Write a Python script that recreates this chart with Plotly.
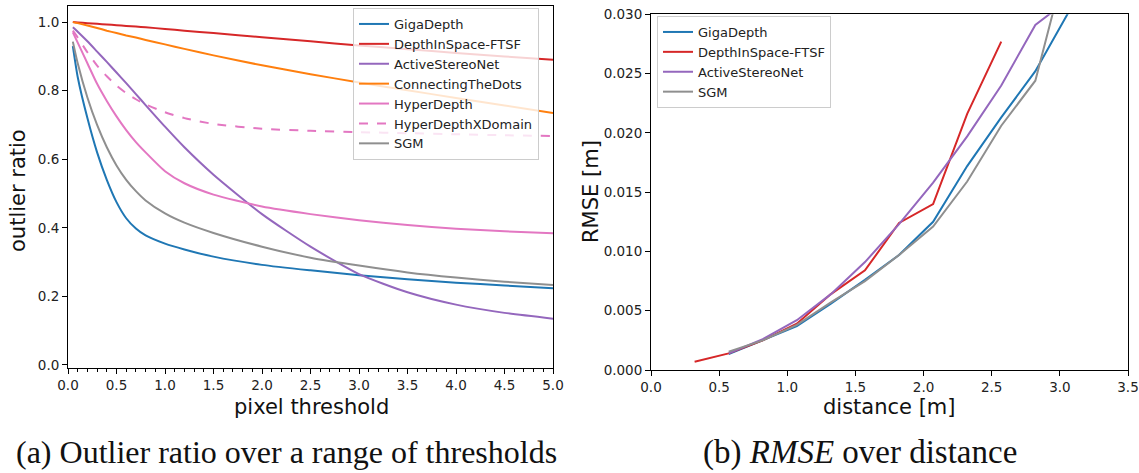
import plotly.graph_objects as go

W, H = 1139, 473

# ---------------- data: (a) outlier ratio ----------------
thresholds = [0.05, 0.1, 0.2, 0.3, 0.4, 0.5, 0.6, 0.7, 0.8, 1.0, 1.2, 1.5, 2.0, 2.5, 3.0, 3.5, 4.0, 4.5, 5.0]
giga_outlier = [0.93, 0.84, 0.72, 0.62, 0.54, 0.475, 0.428, 0.398, 0.378, 0.354, 0.337, 0.316, 0.292, 0.276, 0.262, 0.250, 0.240, 0.232, 0.224]
dis_outlier = [1.0, 0.999, 0.997, 0.995, 0.993, 0.991, 0.989, 0.987, 0.985, 0.98, 0.975, 0.968, 0.956, 0.944, 0.932, 0.921, 0.91, 0.90, 0.89]
asn_outlier = [0.985, 0.972, 0.944, 0.914, 0.884, 0.853, 0.822, 0.79, 0.758, 0.695, 0.635, 0.555, 0.44, 0.345, 0.265, 0.212, 0.176, 0.152, 0.135]
ctd_outlier = [1.0, 0.997, 0.99, 0.983, 0.975, 0.968, 0.961, 0.955, 0.948, 0.935, 0.922, 0.903, 0.874, 0.848, 0.824, 0.801, 0.779, 0.757, 0.735]
hyper_outlier = [0.97, 0.94, 0.88, 0.82, 0.77, 0.725, 0.685, 0.65, 0.62, 0.565, 0.53, 0.497, 0.462, 0.44, 0.422, 0.408, 0.397, 0.39, 0.384]
hyperx_outlier = [0.975, 0.955, 0.912, 0.873, 0.842, 0.815, 0.793, 0.775, 0.76, 0.737, 0.72, 0.703, 0.689, 0.683, 0.679, 0.676, 0.673, 0.670, 0.668]
sgm_outlier = [0.943, 0.88, 0.78, 0.70, 0.635, 0.582, 0.54, 0.507, 0.48, 0.442, 0.415, 0.385, 0.345, 0.313, 0.29, 0.27, 0.255, 0.243, 0.233]

# ---------------- data: (b) RMSE over distance ----------------
dist_giga = [0.57, 0.82, 1.07, 1.32, 1.57, 1.82, 2.07, 2.32, 2.57, 2.82, 3.07]
rmse_giga = [0.00135, 0.0025, 0.0037, 0.0056, 0.0076, 0.0097, 0.0125, 0.0172, 0.0213, 0.0252, 0.0303]
dist_dis = [0.32, 0.57, 0.82, 1.07, 1.32, 1.57, 1.82, 2.07, 2.32, 2.57]
rmse_dis = [0.0007, 0.0014, 0.0025, 0.0039, 0.0064, 0.0084, 0.0124, 0.0140, 0.0216, 0.0277]
dist_asn = [0.57, 0.82, 1.07, 1.32, 1.57, 1.82, 2.07, 2.32, 2.57, 2.82, 3.07]
rmse_asn = [0.0014, 0.0026, 0.0042, 0.0064, 0.0091, 0.0123, 0.0158, 0.0197, 0.0240, 0.0291, 0.0313]
dist_sgm = [0.57, 0.82, 1.07, 1.32, 1.57, 1.82, 2.07, 2.32, 2.57, 2.82, 3.07]
rmse_sgm = [0.00155, 0.0025, 0.0038, 0.0057, 0.0075, 0.0097, 0.0121, 0.0159, 0.0206, 0.0244, 0.0355]

names_a = ["GigaDepth", "DepthInSpace-FTSF", "ActiveStereoNet", "ConnectingTheDots",
           "HyperDepth", "HyperDepthXDomain", "SGM"]
names_b = ["GigaDepth", "DepthInSpace-FTSF", "ActiveStereoNet", "SGM"]
captions = ["(a) Outlier ratio over a range of thresholds", "(b) <i>RMSE</i> over distance"]

C_BLUE, C_RED, C_PURPLE, C_ORANGE, C_PINK, C_GRAY = (
    "#1f77b4", "#d62728", "#9467bd", "#ff7f0e", "#e377c2", "#8f8f8f")

fig = go.Figure()

series_a = [
    (giga_outlier, C_BLUE, "solid"),
    (dis_outlier, C_RED, "solid"),
    (asn_outlier, C_PURPLE, "solid"),
    (ctd_outlier, C_ORANGE, "solid"),
    (hyper_outlier, C_PINK, "solid"),
    (hyperx_outlier, C_PINK, "dash"),
    (sgm_outlier, C_GRAY, "solid"),
]
for name, (vals, col, dash) in zip(names_a, series_a):
    fig.add_trace(go.Scatter(
        x=thresholds, y=vals, name=name, mode="lines",
        line=dict(color=col, width=2, dash=dash, shape="spline", smoothing=0.6),
        xaxis="x", yaxis="y", legend="legend"))

series_b = [
    (dist_giga, rmse_giga, C_BLUE),
    (dist_dis, rmse_dis, C_RED),
    (dist_asn, rmse_asn, C_PURPLE),
    (dist_sgm, rmse_sgm, C_GRAY),
]
for name, (xs, ys, col) in zip(names_b, series_b):
    fig.add_trace(go.Scatter(
        x=xs, y=ys, name=name, mode="lines",
        line=dict(color=col, width=2),
        xaxis="x2", yaxis="y2", legend="legend2"))

tickfont = dict(family="DejaVu Sans", size=13.5, color="#222222")
axis_common = dict(showline=True, linecolor="#000000", linewidth=1, mirror=True,
                   ticks="outside", ticklen=5, tickwidth=1, tickcolor="#000000",
                   showgrid=False, zeroline=False, tickfont=tickfont, automargin=False)

def px_x(p):
    return p / W

def px_y(p):
    return 1 - p / H

legend_common = dict(xanchor="left", yanchor="top",
                     bgcolor="rgba(255,255,255,0.8)", bordercolor="#cccccc", borderwidth=1,
                     font=dict(family="DejaVu Sans", size=13, color="#222222"),
                     tracegroupgap=0)

fig.update_layout(
    width=W, height=H,
    margin=dict(l=0, r=0, t=0, b=0, pad=0),
    paper_bgcolor="white", plot_bgcolor="white",
    xaxis=dict(domain=[px_x(68), px_x(553)], range=[0, 5], anchor="y",
               tick0=0, dtick=0.5, tickformat=".1f",
               minor=dict(ticks="outside", ticklen=3, tickcolor="#000000", dtick=0.1, tick0=0),
               **axis_common),
    yaxis=dict(domain=[px_y(368), px_y(6)], range=[-0.0088, 1.047], anchor="x",
               tick0=0, dtick=0.2, tickformat=".1f", **axis_common),
    xaxis2=dict(domain=[px_x(651), px_x(1128)], range=[0, 3.5], anchor="y2",
                tick0=0, dtick=0.5, tickformat=".1f", **axis_common),
    yaxis2=dict(domain=[px_y(370), px_y(14.3)], range=[0, 0.03], anchor="x2",
                tick0=0, dtick=0.005, tickformat=".3f", **axis_common),
    legend=dict(x=px_x(353), y=px_y(8), **legend_common),
    legend2=dict(x=px_x(657), y=px_y(16), **legend_common),
    showlegend=True,
)

title_font = dict(family="DejaVu Sans", size=21, color="#111111")
cap_font_a = dict(family="Liberation Serif", size=32, color="#111111")
cap_font_b = dict(family="Liberation Serif", size=33, color="#111111")
annots = [
    dict(text="pixel threshold", x=px_x(311), y=px_y(407), font=title_font),
    dict(text="distance [m]", x=px_x(889), y=px_y(407), font=title_font),
    dict(text="outlier ratio", x=px_x(18), y=px_y(191), font=title_font, textangle=-90),
    dict(text="RMSE [m]", x=px_x(591), y=px_y(192), font=title_font, textangle=-90),
    dict(text=captions[0], x=px_x(286), y=px_y(452), font=cap_font_a),
    dict(text=captions[1], x=px_x(860), y=px_y(452), font=cap_font_b),
]
for a in annots:
    fig.add_annotation(xref="paper", yref="paper", showarrow=False,
                       xanchor="center", yanchor="middle", **a)

fig.write_html("out.html")
